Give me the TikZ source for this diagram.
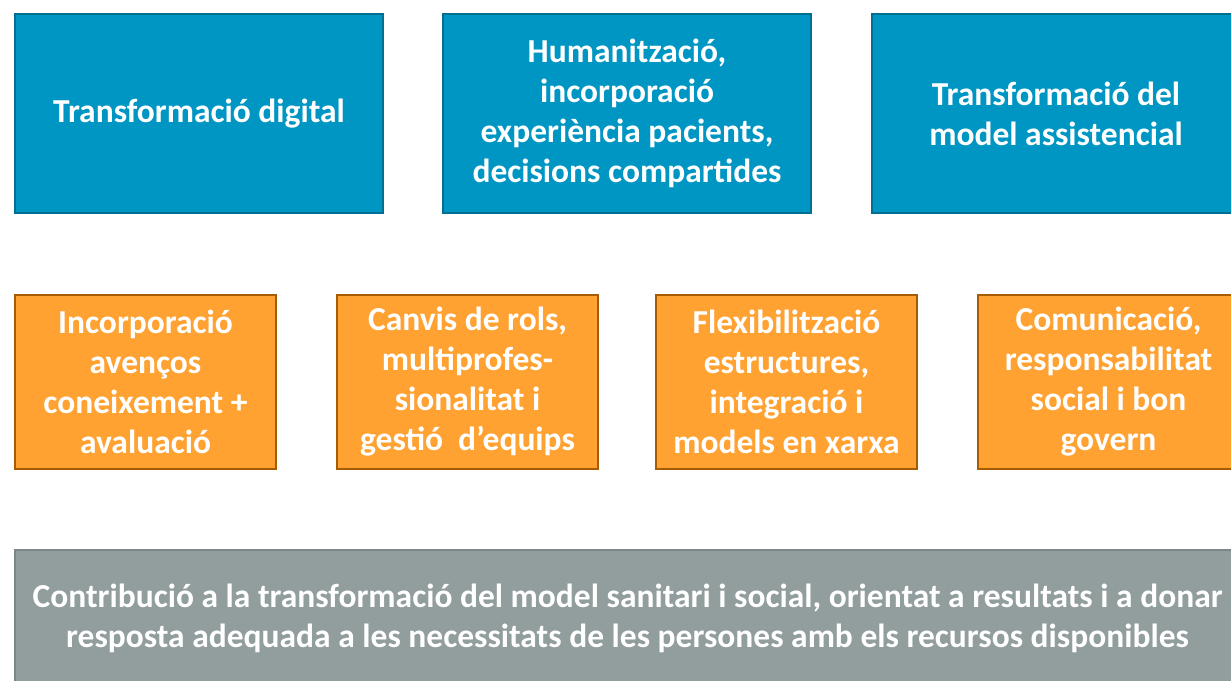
\documentclass[tikz,border=0pt]{standalone}
\usepackage{fontspec}
\setmainfont{Carlito}
\usetikzlibrary{positioning}

\definecolor{aimblue}{HTML}{0096C4}
\definecolor{aimblueline}{HTML}{006F92}
\definecolor{leverorange}{HTML}{FFA232}
\definecolor{leverorangeline}{HTML}{A65C00}
\definecolor{basegray}{HTML}{929D9D}
\definecolor{basegrayline}{HTML}{7D8787}

\tikzset{
  boxtext/.style={text=white, align=center, font=\bfseries\fontsize{33.5}{40}\selectfont, line width=2pt, inner sep=0pt},
  aimbox/.style={boxtext, draw=aimblueline, fill=aimblue, minimum width=368pt, minimum height=199pt},
  leverbox/.style={boxtext, draw=leverorangeline, fill=leverorange, minimum width=261pt, minimum height=174pt},
  basebox/.style={boxtext, draw=basegrayline, fill=basegray, minimum width=1225pt, minimum height=136pt}
}

\begin{document}
\begin{tikzpicture}[x=1pt, y=-1pt]
        \clip (0,0) rectangle (1231,680);
        \fill[white] (0,0) rectangle (1231,680);
        % aims
        \node[aimbox] (digital) at (199,113.5) {Transformació digital};
        \node[aimbox] (human) at (627,113.5) {Humanització,\\incorporació\\experiència pacients,\\decisions compartides};
        \node[aimbox] (model) at (1056,113.5) {Transformació del\\model assistencial};
        % levers
        \node[leverbox] (knowledge) at (145.5,382) {Incorporació\\avenços\\coneixement +\\avaluació};
        \node[leverbox] (roles) at (467.5,382) {Canvis de rols,\\multiprofes-\\sionalitat i\\gestió\ \ d’equips};
        \node[leverbox] (network) at (786.5,382) {Flexibilització\\estructures,\\integració i\\models en xarxa};
        \node[leverbox] (govern) at (1108.5,382) {Comunicació,\\responsabilitat\\social i bon\\govern};
        % base
        \node[basebox] (contribution) at (627.5,618) {Contribució a la transformació del model sanitari i social, orientat a resultats i a donar\\resposta adequada a les necessitats de les persones amb els recursos disponibles};
    \end{tikzpicture}
\end{document}
